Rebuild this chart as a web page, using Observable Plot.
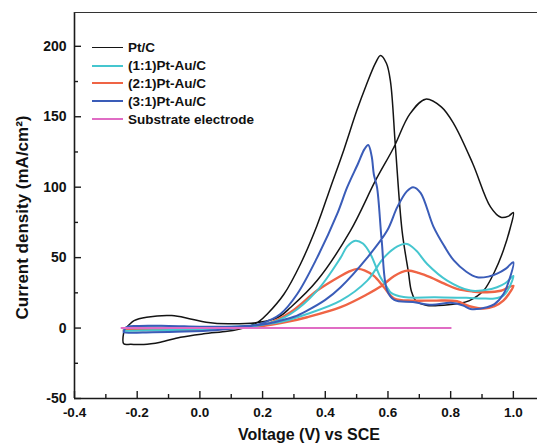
<!DOCTYPE html>
<html>
<head>
<meta charset="utf-8">
<script src="https://cdn.jsdelivr.net/npm/d3@7"></script>
<script src="https://cdn.jsdelivr.net/npm/@observablehq/plot@0.6"></script>
<style>
  html, body { margin: 0; padding: 0; background: #fff; }
  #wrap { position: relative; width: 537px; height: 443px; font-family: "Liberation Sans", Arial, sans-serif; }
  #legend { position: absolute; left: 92px; top: 39px; font-weight: bold; font-size: 13.5px; color: #111; }
  #legend .row { display: flex; align-items: center; height: 17.8px; }
  #legend .sw { width: 31px; height: 0; margin-right: 5px; }
</style>
</head>
<body>
<div id="wrap"><div id="legend"></div></div>
<script>
// ---- axis settings ----
const xDomain = [-0.4, 1.077];
const yDomain = [-50, 224];
const xMajorTicks = [-0.4, -0.2, 0.0, 0.2, 0.4, 0.6, 0.8, 1.0];
const xMinorTicks = [-0.3, -0.1, 0.1, 0.3, 0.5, 0.7, 0.9];
const yMajorTicks = [-50, 0, 50, 100, 150, 200];
const yMinorTicks = [-25, 25, 75, 125, 175];
const xLabel = "Voltage (V) vs SCE";
const yLabel = "Current density (mA/cm²)";

// ---- series names / colours ----
const seriesNames = ["Pt/C", "(1:1)Pt-Au/C", "(2:1)Pt-Au/C", "(3:1)Pt-Au/C", "Substrate electrode"];
const seriesColors = ["#141414", "#45c6cf", "#ef6445", "#3a5cb8", "#e06cc4"];

// ---- Pt/C (closed CV loop: forward then reverse) ----
const ptcV = [-0.243,-0.235,-0.225,-0.21,-0.17,-0.09,-0.03,0.02,0.09,0.19,0.25,0.29,0.374,0.48,0.56,0.618,0.67,0.72,0.77,0.81,0.87,0.927,0.96,0.985,1.0,
  0.99,0.968,0.94,0.905,0.86,0.82,0.76,0.725,0.69,0.675,0.665,0.645,0.624,0.608,0.595,0.576,0.56,0.53,0.50,0.46,0.417,0.374,0.321,0.268,0.215,0.19,0.16,0.12,0.087,0.012,-0.062,-0.126,-0.179,-0.22,-0.243,-0.243];
const ptcI = [-3,0,2.5,5.3,7.7,8.9,6.5,4.2,3,4.1,7.7,14.8,33.7,69,104.6,128,152,162.5,157,145,117,86,78.6,79.5,82,
  71,55,40,26.6,19.5,17.3,16,16,19,26,40,69,128,175,188,193.5,188,172,154,127,100,73,45.5,24,10,5,1.5,-1,-2.3,-4.1,-6.5,-10,-11.7,-11.5,-11.2,-3];

// ---- (1:1)Pt-Au/C ----
const pa11V = [-0.243,-0.235,-0.15,0.0,0.1,0.2,0.27,0.342,0.449,0.534,0.587,0.63,0.661,0.69,0.725,0.789,0.863,0.91,0.948,0.975,1.0,
  0.985,0.968,0.94,0.9,0.85,0.75,0.65,0.61,0.597,0.576,0.544,0.52,0.496,0.47,0.449,0.374,0.289,0.215,0.12,0.0,-0.15,-0.243];
const pa11I = [-2,0.5,0.5,0.5,1,2.5,5,10,19.5,33.7,50,58,59.7,55,45.5,33.7,26.6,27,29,32,37,
  28,23,21,21,21.5,21.8,22,25,29,36,52.6,60,62,58,50,26.6,10,3,0,-1,-1.5,-2];

// ---- (2:1)Pt-Au/C ----
const pa21V = [-0.243,-0.235,-0.1,0.1,0.2,0.27,0.342,0.449,0.534,0.58,0.62,0.661,0.7,0.736,0.78,0.82,0.87,0.916,0.96,1.0,
  0.985,0.968,0.94,0.905,0.86,0.82,0.75,0.68,0.62,0.587,0.555,0.525,0.502,0.475,0.449,0.374,0.289,0.215,0.12,0.0,-0.243];
const pa21I = [-1.5,0,0,0.5,1.5,4,7.7,14.8,24,30,37,40.8,39,36,31.5,27.8,26,25.4,26.5,30,
  24,19.5,15.5,13.8,15.5,19,19.5,19.5,21,29,37,41,42,40,37,26.6,11.2,3,0,-1,-1.5];

// ---- (3:1)Pt-Au/C ----
const pa31V = [-0.243,-0.235,-0.2,-0.1,0.0,0.1,0.2,0.235,0.3,0.342,0.4,0.449,0.534,0.597,0.63,0.66,0.68,0.704,0.745,0.78,0.81,0.85,0.885,0.92,0.948,0.975,1.0,
  0.985,0.969,0.94,0.916,0.863,0.84,0.8,0.74,0.68,0.62,0.597,0.58,0.565,0.555,0.548,0.537,0.525,0.505,0.47,0.438,0.374,0.31,0.257,0.193,0.12,0.05,-0.05,-0.15,-0.243,-0.243];
const pa31I = [-2.5,0.5,1.5,1.5,1,1,2.5,4,8,12.4,20,29,50,69,86,97,100,96,72,58,48,40,36,36.5,38.6,42,46.7,
  33,24.4,17,14.8,13.6,16,18,16.5,18.5,20,27,62,100,109,122,130,127,117,100,81,50,24,10,3,0,-1.5,-2.5,-3,-3,-2.5];

// ---- Substrate electrode ----
const subV = [-0.25, 0.8];
const subI = [0, 0];

const seriesV = [ptcV, pa11V, pa21V, pa31V, subV];
const seriesI = [ptcI, pa11I, pa21I, pa31I, subI];
const seriesWidth = [1.5, 2, 2.4, 2, 2];
const drawOrder = [0, 2, 1, 3, 4];

const rows = seriesV.map((vs, k) => vs.map((v, j) => ({k, v, i: seriesI[k][j]})));

const W = 537, H = 443;
const mt = 12, mb = 45, ml = 74, mr = 0;
const plotH = H - mt - mb, plotW = W - ml - mr;
const axisColor = "#1a1a1a";

const marks = [];
// axis lines (left, bottom, top)
marks.push(Plot.ruleX([xDomain[0]], {stroke: axisColor, strokeWidth: 1.6}));
marks.push(Plot.ruleY([yDomain[0]], {stroke: axisColor, strokeWidth: 1.6}));
marks.push(Plot.ruleY([yDomain[1]], {stroke: "#333", strokeWidth: 1.2}));
// inward ticks
marks.push(Plot.tickX(xMajorTicks, {x: d => d, insetTop: plotH - 7, stroke: axisColor, strokeWidth: 1.4}));
marks.push(Plot.tickX(xMinorTicks, {x: d => d, insetTop: plotH - 4, stroke: axisColor, strokeWidth: 1.4}));
marks.push(Plot.tickY(yMajorTicks, {y: d => d, insetRight: plotW - 7, stroke: axisColor, strokeWidth: 1.4}));
marks.push(Plot.tickY(yMinorTicks, {y: d => d, insetRight: plotW - 4, stroke: axisColor, strokeWidth: 1.4}));
// tick labels (ASCII hyphen minus, as in the reference)
marks.push(Plot.axisX({ticks: xMajorTicks, tickSize: 0, tickPadding: 9, tickFormat: d => d.toFixed(1), label: null,
  fontSize: 13.5, fontWeight: "bold", color: "#111"}));
marks.push(Plot.axisY({ticks: yMajorTicks, tickSize: 0, tickPadding: 8, tickFormat: d => String(d), label: null,
  fontSize: 14, fontWeight: "bold", color: "#111"}));
// curves
for (const k of drawOrder) {
  marks.push(Plot.line(rows[k], {x: "v", y: "i", stroke: seriesColors[k], strokeWidth: seriesWidth[k], curve: "catmull-rom"}));
}
// axis titles
marks.push(Plot.text([xLabel], {text: d => d, frameAnchor: "bottom", dx: 3, dy: 36, lineAnchor: "middle",
  fontSize: 16, fontWeight: "bold", fill: "#111"}));
marks.push(Plot.text([yLabel], {text: d => d, frameAnchor: "left", rotate: -90, dx: -52, dy: 12, lineAnchor: "middle", textAnchor: "middle",
  fontSize: 17, fontWeight: "bold", fill: "#111"}));

const chart = Plot.plot({
  width: W, height: H,
  marginTop: mt, marginBottom: mb, marginLeft: ml, marginRight: mr,
  style: {fontFamily: "'Liberation Sans', Arial, sans-serif", background: "#fff", overflow: "visible"},
  x: {domain: xDomain, axis: null},
  y: {domain: yDomain, axis: null},
  marks
});
document.getElementById("wrap").prepend(chart);

// legend overlay
const leg = document.getElementById("legend");
seriesNames.forEach((name, k) => {
  const row = document.createElement("div");
  row.className = "row";
  const sw = document.createElement("div");
  sw.className = "sw";
  sw.style.borderTop = `${k === 0 ? 1.5 : 2}px solid ${seriesColors[k]}`;
  const t = document.createElement("span");
  t.textContent = name;
  row.append(sw, t);
  leg.append(row);
});
</script>
</body>
</html>
